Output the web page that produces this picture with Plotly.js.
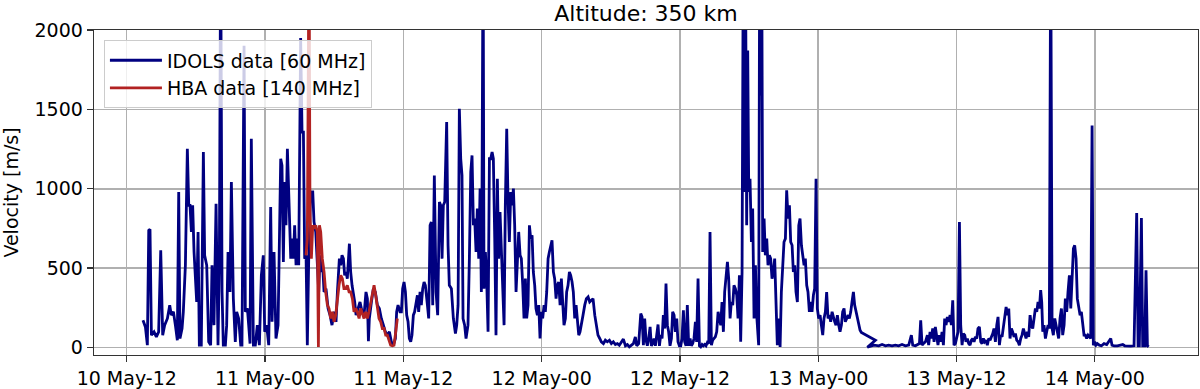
<!DOCTYPE html>
<html><head><meta charset="utf-8">
<script src="https://cdn.plot.ly/plotly-3.0.1.min.js"></script>
<style>html,body{margin:0;padding:0;background:#fff}#chart{width:1200px;height:389px}</style>
</head><body><div id="chart"></div>
<script>
// hours since 10 May 00:00
const idolsHours = [
13.41,13.62,13.79,13.91,14.02,14.14,14.37,14.57,14.77,14.95,15.12,15.29,15.53,15.73,15.87,16.05,16.22,16.39,16.51,16.62,
16.80,16.91,17.09,17.26,17.38,17.49,17.61,17.72,17.84,17.95,18.07,18.19,18.30,18.47,18.65,18.76,18.94,19.11,19.28,19.40,
19.57,19.75,19.92,20.04,20.15,20.27,20.38,20.56,20.67,20.79,20.96,21.08,21.25,21.42,21.54,21.71,21.89,22.00,22.18,22.29,
22.47,22.58,22.70,22.81,22.99,23.16,23.33,23.51,23.68,23.85,23.97,24.14,24.32,24.49,24.61,24.78,24.95,25.13,25.36,25.47,
25.59,25.70,25.82,25.94,
26.11,26.23,26.34,26.46,26.57,26.69,26.81,26.92,27.09,27.21,27.33,27.44,27.56,27.67,27.79,27.96,28.14,28.25,28.40,28.54,
28.66,28.77,28.89,29.00,29.12,29.29,29.47,29.64,29.81,29.99,30.16,30.28,30.45,30.57,30.68,30.80,30.91,31.03,31.14,31.32,
31.43,31.55,31.66,31.78,31.90,32.07,32.24,32.42,32.59,32.76,32.88,32.97,33.05,33.23,33.40,33.57,33.75,33.92,34.09,34.27,
34.44,34.61,34.79,34.96,35.14,35.31,35.42,35.54,35.71,35.83,35.94,36.06,36.18,36.29,36.41,36.52,36.64,36.75,36.87,36.98,
37.10,37.22,37.33,37.45,37.56,37.68,37.80,37.91,
38.09,38.20,38.32,38.43,38.55,38.69,38.84,38.98,39.13,39.24,39.36,39.47,39.59,39.76,39.88,39.99,40.17,40.34,40.52,40.63,
40.75,40.86,40.98,41.09,41.18,41.32,41.44,41.61,41.73,41.85,41.96,42.08,42.19,42.31,42.42,42.54,42.66,42.77,42.83,42.92,
43.00,43.12,43.23,43.35,43.47,43.58,43.70,43.81,43.93,44.04,44.16,44.27,44.39,44.51,44.62,44.74,44.85,44.97,45.08,45.20,
45.32,45.43,45.55,45.66,45.78,45.89,46.01,46.13,46.24,46.36,46.47,46.59,46.70,46.82,46.94,47.05,47.17,47.28,47.40,47.51,
47.63,47.75,47.86,47.98,48.09,48.21,48.32,48.44,48.56,48.67,48.79,48.90,49.02,49.13,49.25,49.36,49.48,49.60,49.71,49.83,
49.94,50.06,50.17,50.29,
50.41,50.52,50.64,50.75,50.87,50.99,51.10,51.22,51.33,51.45,51.59,51.74,51.88,52.03,52.17,52.32,52.46,52.61,52.75,52.89,
53.04,53.18,53.36,53.53,53.70,53.88,54.05,54.22,54.40,54.57,54.74,54.92,55.09,55.27,55.44,55.61,55.79,55.96,56.13,56.25,
56.42,56.60,56.71,56.83,56.94,57.06,57.17,57.29,57.41,57.52,57.64,57.75,57.87,57.98,58.10,58.22,58.33,58.45,58.56,58.68,
58.79,58.91,59.02,59.14,59.26,59.37,59.49,59.60,59.72,59.83,59.95,60.07,60.18,60.30,60.41,60.53,60.64,60.76,60.88,60.99,
61.11,61.22,61.34,61.45,61.57,61.69,61.80,61.92,62.03,62.15,62.26,62.38,62.50,62.61,
62.73,62.84,62.96,63.07,63.19,63.31,63.42,63.54,63.65,63.77,63.88,64.00,64.12,64.23,64.35,64.46,64.58,64.69,64.81,64.93,
65.04,65.16,65.27,65.39,65.50,65.59,65.68,65.79,65.88,65.97,66.08,66.20,66.31,66.43,66.55,66.66,66.78,66.83,66.92,67.01,
67.09,67.18,67.30,67.41,67.53,67.64,67.76,67.87,67.99,68.11,68.22,68.34,68.45,68.57,68.69,68.80,68.92,69.03,69.15,69.26,
69.38,69.50,69.61,69.73,69.84,69.96,70.07,70.19,70.31,70.42,70.54,70.65,70.77,70.88,71.00,71.11,71.23,71.35,71.46,71.58,
71.69,71.81,71.92,72.04,72.16,72.27,72.39,72.50,72.62,72.73,72.85,72.97,73.08,73.20,73.31,73.43,73.54,73.66,73.78,73.89,
74.01,74.12,74.24,74.35,74.47,74.59,74.70,74.82,74.93,
75.05,75.16,75.28,75.40,75.51,75.63,75.74,76.96,76.26,76.55,76.84,77.25,77.54,77.83,78.11,78.40,78.69,78.98,79.27,79.56,
79.85,80.08,80.20,80.43,80.60,80.78,80.89,81.01,81.12,81.30,81.47,81.58,81.70,81.82,81.93,82.05,82.16,82.28,82.39,82.51,
82.63,82.74,82.86,82.97,83.09,83.20,83.32,83.44,83.55,83.67,83.78,83.90,84.01,84.13,84.25,84.36,84.48,84.59,84.71,84.82,
84.94,85.05,85.17,85.29,85.40,85.52,85.63,85.75,85.86,85.98,86.10,86.21,86.33,86.44,86.56,86.67,86.79,86.91,87.02,87.14,
87.25,87.37,87.49,87.60,87.72,87.83,87.95,88.06,88.18,88.30,88.41,88.53,88.64,88.76,88.87,88.99,89.11,89.22,89.34,89.45,
89.57,89.68,89.80,89.91,90.03,90.15,90.26,90.38,90.49,90.61,90.72,90.84,90.96,91.07,91.19,91.30,91.39,91.48,91.59,91.71,
91.82,91.94,92.05,92.17,92.29,92.40,92.52,92.63,92.75,92.86,92.98,93.10,93.21,93.33,93.44,93.56,93.67,93.79,93.91,94.02,
94.14,94.25,94.37,94.48,94.60,94.72,94.83,94.95,95.06,95.18,95.29,95.41,95.53,95.64,95.76,95.87,95.99,96.10,96.22,96.39,
96.57,96.80,97.03,97.20,97.38,97.49,97.67,97.95,98.24,98.42,98.59,98.82,99.11,99.40,99.63,99.75,99.86,100.04,100.15,100.33,
100.44,100.56,100.67
];
const idolsVelocity = [
172,130,15,738,745,78,99,67,99,613,78,141,183,267,204,225,141,46,980,57,
120,225,518,1252,896,896,728,896,602,392,287,728,15,15,1231,581,518,36,15,518,
141,906,15,560,2600,350,15,15,141,602,350,1042,308,36,225,183,15,15,1900,225,
246,141,25,1315,15,15,141,15,455,581,99,141,15,885,162,602,57,141,1189,1147,
539,1042,770,1252,
854,560,686,560,770,518,686,518,1950,1357,1357,560,581,15,560,980,980,791,728,560,
350,581,476,518,350,371,246,204,141,225,162,350,560,518,581,560,455,476,434,654,
476,392,350,287,204,246,287,225,204,350,308,40,183,287,371,350,267,246,183,141,
99,78,99,36,15,57,225,267,225,225,371,413,350,204,162,57,36,78,204,225,
287,329,225,350,267,371,413,392,
267,183,770,791,267,1084,350,204,917,896,560,896,917,1420,644,392,371,183,88,141,
267,1504,1189,1084,183,141,57,141,560,1105,1210,770,812,602,875,560,1001,350,1021,2600,
371,602,434,99,1189,1189,1231,1189,686,78,1063,560,854,560,308,141,896,1378,938,665,
980,896,1001,770,350,560,728,581,560,392,183,434,183,267,770,686,707,476,392,246,
204,267,57,225,183,267,225,350,560,602,644,675,476,434,308,392,413,267,434,246,
141,183,350,392,
476,455,413,350,183,267,141,78,99,141,204,267,308,319,287,298,308,204,141,78,
57,36,25,46,36,46,25,36,19,25,15,36,53,11,19,4,15,25,67,11,
25,214,193,15,183,46,11,57,130,11,25,57,11,67,145,11,78,57,204,120,
403,141,99,11,57,225,204,99,183,36,11,11,57,235,36,11,267,11,57,11,
25,57,162,36,434,11,4,19,11,19,11,32,25,728,
15,46,57,67,99,225,183,141,287,99,350,455,539,434,183,287,267,392,371,329,
183,455,36,476,2600,980,2600,770,1871,980,1063,665,875,183,518,204,36,15,2600,1588,
2600,602,812,581,686,518,581,560,434,476,560,225,15,183,4,350,560,665,686,990,
812,896,665,644,476,518,350,287,770,812,644,560,518,560,392,350,225,287,225,329,
371,1063,246,183,204,141,78,183,225,350,183,204,162,225,183,162,141,204,141,99,
141,225,246,162,183,204,183,225,287,
350,267,225,183,141,109,95,46,2,11,15,11,19,11,15,11,15,11,19,11,
15,78,15,11,19,25,172,15,25,36,78,15,99,57,120,36,130,67,15,78,
36,99,15,183,141,193,162,204,141,298,15,25,57,99,791,141,15,88,78,36,
57,25,15,46,57,36,67,57,120,130,36,25,57,36,46,15,57,46,67,88,
120,36,141,193,15,78,67,120,204,256,204,246,57,120,99,67,88,46,36,15,
57,78,120,78,57,99,67,204,141,120,183,246,225,287,246,361,287,99,141,57,
99,141,120,2600,120,78,183,141,120,57,183,246,78,141,308,225,350,455,246,413,
623,644,560,308,246,204,225,120,78,78,57,78,67,57,1399,15,36,15,25,15,
11,25,19,36,57,15,11,11,15,19,11,9,9,11,847,11,11,816,11,11,
487,11,4
];
const hbaHours = [
27.56,27.67,27.82,27.90,28.02,28.14,28.25,28.40,28.54,28.63,28.72,28.83,28.97,29.12,29.26,29.41,29.55,29.70,29.84,29.99,
30.13,30.28,30.42,30.57,30.71,30.85,31.00,31.14,31.29,31.43,31.58,31.72,31.87,32.01,32.16,32.30,32.45,32.59,32.73,32.88,
33.02,33.17,33.31,33.46,33.60,33.75,33.89,34.04,34.18,34.33,34.47,34.61,34.76,34.90,35.05,35.19,35.34,35.48
];
const hbaVelocity = [
581,686,2600,854,560,770,749,770,728,4,770,728,560,476,350,267,246,183,225,162,
204,308,392,455,434,371,371,392,350,350,308,225,246,225,183,246,204,183,225,183,
225,287,350,392,329,246,183,162,120,120,78,78,36,15,11,15,99,183
];
const xTickHours = [12,24,36,48,60,72,84,96];
const yTicks = [0,500,1000,1500,2000];

const base = Date.UTC(2024,4,10);
const toMs = h => base + h*3600000;

const traces = [
  {x: idolsHours.map(toMs), y: idolsVelocity, type:'scatter', mode:'lines',
   name:'IDOLS data [60 MHz]', line:{color:'#000080', width:2.8}},
  {x: hbaHours.map(toMs), y: hbaVelocity, type:'scatter', mode:'lines',
   name:'HBA data [140 MHz]', line:{color:'#b22222', width:2.8}}
];
const axisCommon = {
  showgrid:true, gridcolor:'#b0b0b0', gridwidth:1.5, zeroline:false,
  showline:true, linecolor:'#333', linewidth:1.3, mirror:true,
  ticks:'outside', ticklen:6, tickwidth:1.3, tickcolor:'#333',
  tickfont:{size:19, color:'#000'}
};
const layout = {
  width:1200, height:389,
  margin:{l:94, r:2, t:30, b:34, pad:0},
  paper_bgcolor:'#fff', plot_bgcolor:'#fff',
  font:{family:'DejaVu Sans, sans-serif', size:19, color:'#000'},
  title:{text:'Altitude: 350 km', font:{size:22, color:'#000'}, x:0.5, xref:'paper', xanchor:'center',
         y:1-13/389, yref:'container', yanchor:'middle'},
  xaxis:Object.assign({}, axisCommon, {type:'date', range:[toMs(9.16), toMs(104.95)],
         tickmode:'array', tickvals:xTickHours.map(toMs), tickformat:'%d %b-%H'}),
  yaxis:Object.assign({}, axisCommon, {range:[-47,2000], tickmode:'array', tickvals:yTicks,
         title:{text:'Velocity [m/s]', font:{size:19, color:'#000'}, standoff:12}}),
  legend:{x:0.009, y:0.968, xanchor:'left', yanchor:'top', bgcolor:'rgba(255,255,255,0.8)',
          bordercolor:'#cccccc', borderwidth:1, font:{size:19, color:'#000'}, itemwidth:52, tracegroupgap:0},
  showlegend:true
};
Plotly.newPlot('chart', traces, layout, {staticPlot:true, displayModeBar:false});
</script>
</body></html>
